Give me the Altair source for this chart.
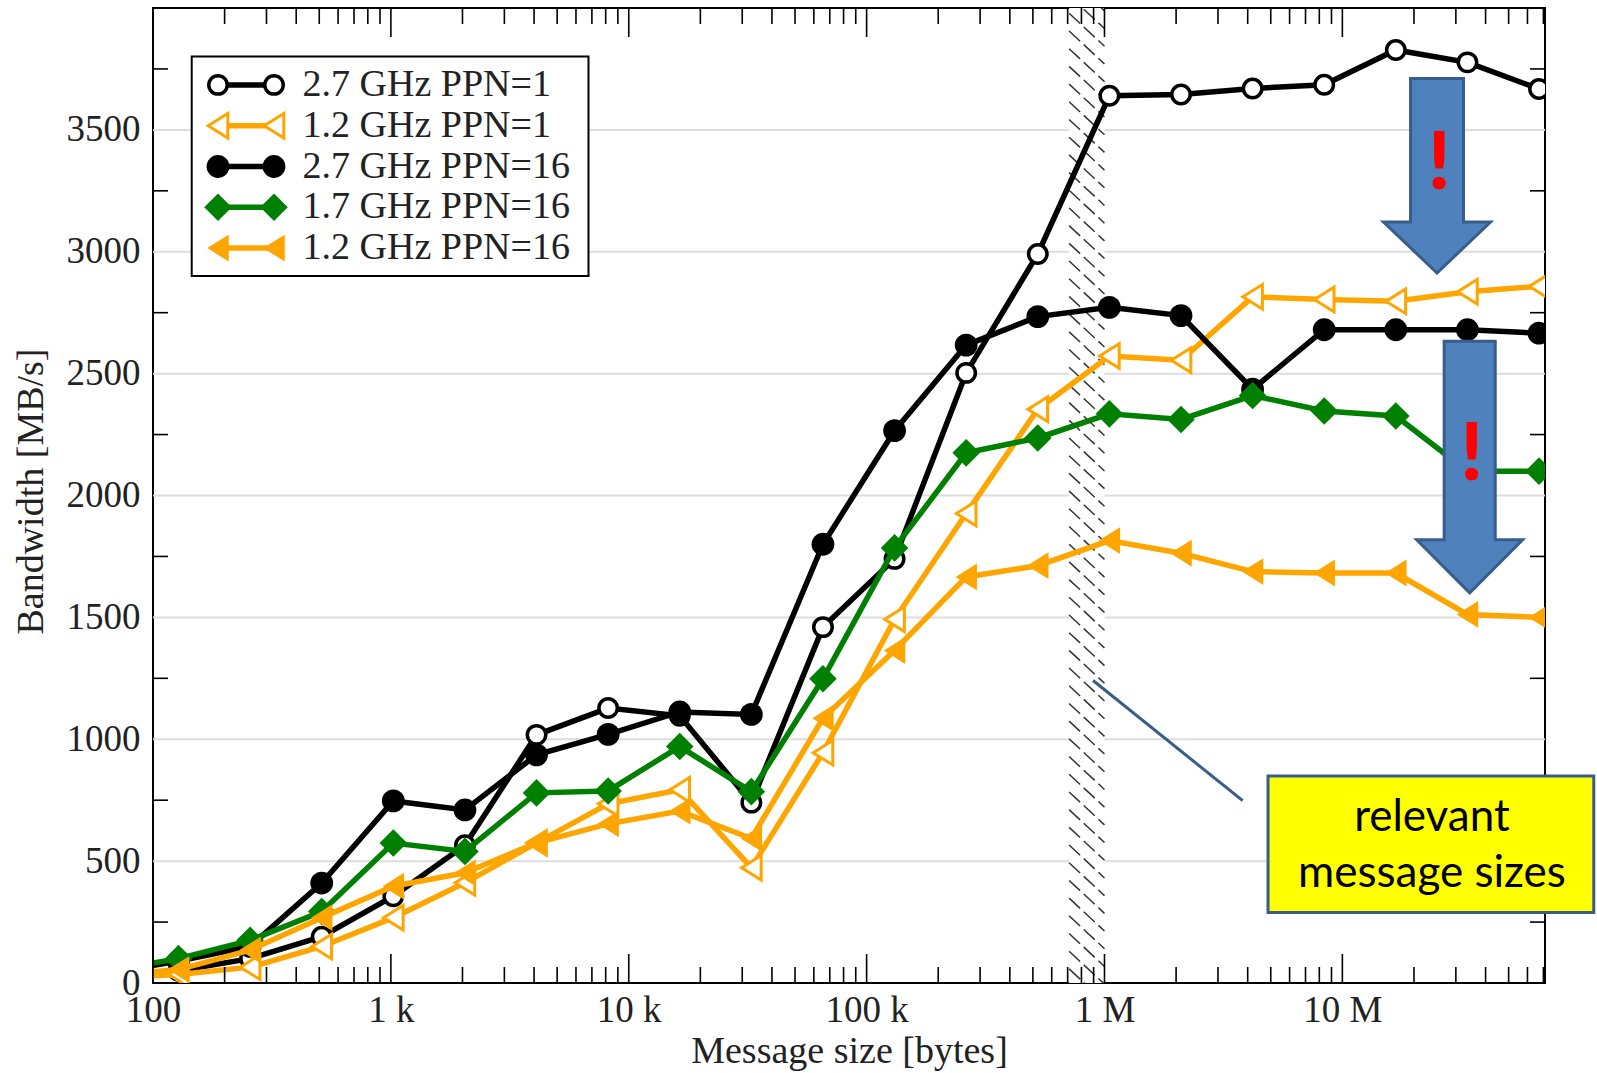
import altair as alt
import numpy as np
import pandas as pd

# Message sizes in bytes (powers of two) and measured bandwidth in MB/s
sizes = [2 ** k for k in range(6, 27)]
series_names = ["2.7 GHz PPN=1", "1.2 GHz PPN=1", "2.7 GHz PPN=16", "1.7 GHz PPN=16", "1.2 GHz PPN=16"]
bw_27_ppn1 = [25, 50, 100, 190, 356, 565, 1018, 1128, 1096, 740, 1460, 1740, 2503, 2991, 3640, 3645, 3670, 3685, 3828, 3777, 3668]
bw_12_ppn1 = [20, 35, 65, 150, 268, 411, 575, 735, 793, 473, 945, 1492, 1926, 2354, 2572, 2555, 2815, 2804, 2797, 2836, 2858]
bw_27_ppn16 = [40, 90, 150, 410, 747, 710, 936, 1020, 1112, 1102, 1800, 2266, 2617, 2734, 2772, 2738, 2436, 2680, 2680, 2680, 2666]
bw_17_ppn16 = [50, 100, 175, 293, 574, 540, 780, 788, 970, 785, 1248, 1785, 2175, 2236, 2335, 2312, 2410, 2347, 2326, 2100, 2100]
bw_12_ppn16 = [30, 55, 135, 268, 397, 452, 575, 653, 705, 593, 1086, 1364, 1666, 1712, 1815, 1763, 1688, 1682, 1682, 1512, 1500]
all_series = [bw_27_ppn1, bw_12_ppn1, bw_27_ppn16, bw_17_ppn16, bw_12_ppn16]

# Axis ticks and labels
xtick_values = [100, 1000, 10000, 100000, 1000000, 10000000]
xtick_labels = ["100", "1 k", "10 k", "100 k", "1 M", "10 M"]
ytick_values = [0, 500, 1000, 1500, 2000, 2500, 3000, 3500]
grid_values = [500, 1000, 1500, 2000, 2500, 3000, 3500]
yminor_values = [250, 750, 1250, 1750, 2250, 2750, 3250, 3750]

# Shaded band around the 1 MB boundary
band_lo, band_hi = 7.1e5, 1.0e6

# Callout annotations (data coordinates)
arrow_x = [2.50e7, 3.43e7]
arrow_y = [3312, 2117]
bang_x = [2.55e7, 3.50e7]
bang_y = [3356, 2161]
box_x, box_x2, box_y, box_y2 = 4.87e6, 1.14e8, 849, 289
box_text = ["relevant", "message sizes"]
box_text_x = 2.38e7
box_text_y = [677, 447]
leader_x, leader_y, leader_x2, leader_y2 = 8.95e5, 1241, 3.81e6, 748

W, H = 1392, 975
xs = alt.Scale(type="log", domain=[100, 7.11e7])
ys = alt.Scale(domain=[0, 4000])
SERIF = "Liberation Serif"
TXT = "#222222"
ORANGE = "#FFA500"
GREEN = "#008000"
BLUE_FILL = "#4F81BD"
BLUE_EDGE = "#385D8A"
TRI_LEFT = "M-0.8,0L0.8,-1L0.8,1Z"

label_expr = " : ".join(
    f"datum.value == {v} ? '{l}'" for v, l in zip(xtick_values[:-1], xtick_labels[:-1])
) + f" : '{xtick_labels[-1]}'"

x_axis = alt.Axis(values=xtick_values, labelExpr=label_expr, ticks=False, domain=False, grid=False,
                  labelFont=SERIF, labelFontSize=37, labelColor=TXT, labelPadding=9,
                  labelFlush=False, labelOverlap=False,
                  title="Message size [bytes]", titleFont=SERIF, titleFontSize=38,
                  titleFontWeight="normal", titleColor=TXT, titleY=68, titleBaseline="middle")
y_axis = alt.Axis(values=ytick_values, format="d", ticks=False, domain=False, grid=False,
                  labelFont=SERIF, labelFontSize=37, labelColor=TXT, labelPadding=13,
                  title="Bandwidth [MB/s]", titleFont=SERIF, titleFontSize=38,
                  titleFontWeight="normal", titleColor=TXT, titleX=-122, titleY=483,
                  titleAngle=270, titleBaseline="middle", titleAlign="center")


def X(field):
    return alt.X(field=field, type="quantitative", scale=xs, axis=x_axis, title="Message size [bytes]")


def Y(field):
    return alt.Y(field=field, type="quantitative", scale=ys, axis=y_axis, title="Bandwidth [MB/s]")


rows = []
for name, vals in zip(series_names, all_series):
    for s, v in zip(sizes, vals):
        rows.append({"series": name, "size": s, "bw": v})
df = pd.DataFrame(rows)

styles = {
    "2.7 GHz PPN=1": dict(color="black", shape="circle", fill="white", sw=3.5, size=340),
    "1.2 GHz PPN=1": dict(color=ORANGE, shape=TRI_LEFT, fill="white", sw=3, size=600),
    "2.7 GHz PPN=16": dict(color="black", shape="circle", fill="black", sw=0, size=520),
    "1.7 GHz PPN=16": dict(color=GREEN, shape="diamond", fill=GREEN, sw=0, size=760),
    "1.2 GHz PPN=16": dict(color=ORANGE, shape=TRI_LEFT, fill=ORANGE, sw=0, size=720),
}
LINE_W = 5.5

layers = []

# horizontal grid
grid = alt.Chart(pd.DataFrame({"g": grid_values})).mark_rule(color="#DDDDDD", strokeWidth=2).encode(y=Y("g"))
layers.append(grid)

# shaded band: white backing plus diagonal hatching
band = alt.Chart(pd.DataFrame({"a": [band_lo], "b": [band_hi], "lo": [0], "hi": [4000]})).mark_rect(
    fill="white").encode(x=X("a"), x2="b", y=Y("lo"), y2="hi")
layers.append(band)
hatch_y = np.arange(-160, 4160, 72.6)
hatch = pd.DataFrame({"a": band_lo, "b": band_hi, "y0": hatch_y, "y1": hatch_y - 135})
layers.append(alt.Chart(hatch).mark_rule(color="#333333", strokeWidth=1.5, strokeDash=[15, 5], clip=True).encode(
    x=X("a"), x2="b", y=Y("y0"), y2="y1"))

# data series
for name in series_names:
    st = styles[name]
    sub = alt.Chart(df).transform_filter(alt.datum.series == name)
    layers.append(sub.mark_line(color=st["color"], strokeWidth=LINE_W, clip=True).encode(x=X("size"), y=Y("bw")))
    layers.append(sub.mark_point(shape=st["shape"], filled=True, fill=st["fill"], stroke=st["color"],
                                 strokeWidth=st["sw"], size=st["size"], opacity=1, clip=True).encode(
        x=X("size"), y=Y("bw")))

# axis ticks (inward, on all four sides)
dec = [10 ** d for d in range(2, 8)]
minor = [k * 10 ** d for d in range(2, 8) for k in range(2, 10) if k * 10 ** d <= 7.11e7]
tick_style = dict(color="black", strokeWidth=1.6)
for vals, ln in ((dec, 29), (minor, 16)):
    tdf = pd.DataFrame({"t": vals})
    layers.append(alt.Chart(tdf).mark_rule(**tick_style).encode(x=X("t"), y=alt.value(H), y2=alt.value(H - ln)))
    layers.append(alt.Chart(tdf).mark_rule(**tick_style).encode(x=X("t"), y=alt.value(0), y2=alt.value(ln)))
ydf = pd.DataFrame({"t": yminor_values})
layers.append(alt.Chart(ydf).mark_rule(**tick_style).encode(y=Y("t"), x=alt.value(0), x2=alt.value(15)))
layers.append(alt.Chart(ydf).mark_rule(**tick_style).encode(y=Y("t"), x=alt.value(W - 15), x2=alt.value(W)))

# legend
one = pd.DataFrame({"k": [0]})
layers.append(alt.Chart(one).mark_rect(fill="white", stroke="black", strokeWidth=2).encode(
    x=alt.value(38.7), x2=alt.value(435.5), y=alt.value(48.6), y2=alt.value(267.9)))
for i, name in enumerate(series_names):
    st = styles[name]
    ry = 76.9 + 40.8 * i
    layers.append(alt.Chart(one).mark_rule(color=st["color"], strokeWidth=LINE_W).encode(
        x=alt.value(65), x2=alt.value(121), y=alt.value(ry)))
    for px in (65, 121):
        layers.append(alt.Chart(one).mark_point(shape=st["shape"], filled=True, fill=st["fill"], stroke=st["color"],
                                                strokeWidth=st["sw"], size=st["size"], opacity=1).encode(
            x=alt.value(px), y=alt.value(ry)))
    layers.append(alt.Chart(pd.DataFrame({"label": [name]})).mark_text(
        font=SERIF, fontSize=38, color=TXT, align="left", baseline="middle").encode(
        text="label:N", x=alt.value(149.5), y=alt.value(ry)))

# callouts: downward arrows with exclamation marks
arrow_paths = [
    "M-0.272,-1L0.272,-1L0.272,0.476L0.55,0.476L0,1L-0.55,0.476L-0.272,0.476Z",
    "M-0.203,-1L0.203,-1L0.203,0.579L0.421,0.579L0,1L-0.421,0.579L-0.203,0.579Z",
]
arrow_sizes = [194.6 ** 2, 251.6 ** 2]
for ax, ay, path, sz in zip(arrow_x, arrow_y, arrow_paths, arrow_sizes):
    layers.append(alt.Chart(pd.DataFrame({"x": [ax], "y": [ay]})).mark_point(
        shape=path, filled=True, fill=BLUE_FILL, stroke=BLUE_EDGE, strokeWidth=3, size=sz, opacity=1).encode(
        x=X("x"), y=Y("y")))
layers.append(alt.Chart(pd.DataFrame({"x": bang_x, "y": bang_y, "t": ["!", "!"]})).mark_text(
    font="Lato", fontSize=80, fontWeight=900, color="#FF0000", align="center", baseline="middle").encode(
    x=X("x"), y=Y("y"), text="t:N"))

# leader line and text box
layers.append(alt.Chart(pd.DataFrame({"a": [leader_x], "b": [leader_x2], "c": [leader_y], "d": [leader_y2]})).mark_rule(
    color=BLUE_EDGE, strokeWidth=3).encode(x=X("a"), x2="b", y=Y("c"), y2="d"))
layers.append(alt.Chart(pd.DataFrame({"a": [box_x], "b": [box_x2], "c": [box_y], "d": [box_y2]})).mark_rect(
    fill="#FFFF00", stroke=BLUE_EDGE, strokeWidth=3).encode(x=X("a"), x2="b", y=Y("c"), y2="d"))
layers.append(alt.Chart(pd.DataFrame({"x": [box_text_x] * 2, "y": box_text_y, "t": box_text})).mark_text(
    font="Lato", fontSize=44, color="black", align="center", baseline="middle").encode(
    x=X("x"), y=Y("y"), text="t:N"))

chart = alt.layer(*layers).properties(
    width=W, height=H,
    autosize=alt.AutoSizeParams(type="none"),
    padding={"left": 153, "top": 8, "right": 52, "bottom": 90},
    background="white",
).configure_view(stroke="black", strokeWidth=2)

chart.save("out.html", embed_options={"renderer": "svg", "actions": False})
